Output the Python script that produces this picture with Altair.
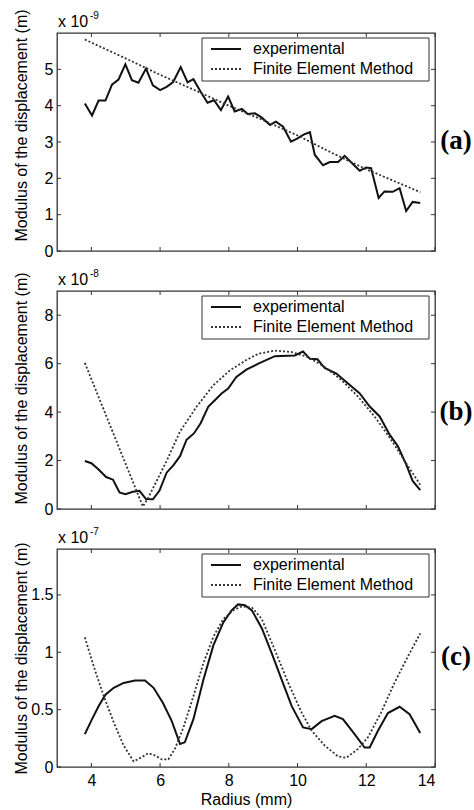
import altair as alt
import pandas as pd

# ---------------- data ----------------
# Panel (a): values in units of 1e-9 m
a_exp_x = [3.81, 4.02, 4.21, 4.41, 4.60, 4.79, 4.99, 5.18, 5.37, 5.59, 5.79, 6.00, 6.19, 6.38, 6.60,
           6.80, 6.97, 7.18, 7.38, 7.57, 7.77, 7.98, 8.17, 8.38, 8.55, 8.76, 8.96, 9.20, 9.37, 9.58,
           9.81, 10.00, 10.19, 10.36, 10.50, 10.74, 10.94, 11.18, 11.37, 11.58, 11.81, 12.00, 12.14,
           12.36, 12.53, 12.77, 12.97, 13.16, 13.35, 13.57]
a_exp_y = [4.06, 3.73, 4.14, 4.14, 4.58, 4.72, 5.14, 4.70, 4.63, 5.02, 4.56, 4.43, 4.52, 4.65, 5.06,
           4.64, 4.73, 4.38, 4.08, 4.15, 3.88, 4.25, 3.84, 3.91, 3.77, 3.79, 3.67, 3.47, 3.56, 3.42,
           3.01, 3.10, 3.21, 3.27, 2.65, 2.36, 2.45, 2.45, 2.62, 2.42, 2.21, 2.30, 2.28,
           1.46, 1.64, 1.63, 1.73, 1.10, 1.35, 1.32]
a_fem_x = [3.81, 5.0, 6.0, 7.0, 8.0, 9.0, 10.0, 11.0, 12.0, 13.0, 13.57]
a_fem_y = [5.82, 5.30, 4.85, 4.43, 4.00, 3.60, 3.18, 2.70, 2.25, 1.85, 1.62]

# Panel (b): values in units of 1e-8 m
b_exp_x = [3.81, 4.00, 4.21, 4.43, 4.63, 4.82, 4.99, 5.21, 5.40, 5.59, 5.79, 5.98, 6.19, 6.39, 6.58,
           6.77, 6.99, 7.18, 7.40, 7.60, 7.79, 7.98, 8.22, 8.51, 8.86, 9.34, 9.92, 10.16, 10.36,
           10.58, 10.79, 11.13, 11.47, 11.81, 12.10, 12.39, 12.68, 12.92, 13.16, 13.35, 13.57]
b_exp_y = [1.98, 1.89, 1.63, 1.32, 1.21, 0.68, 0.61, 0.71, 0.75, 0.41, 0.40, 0.75, 1.50, 1.81, 2.18,
           2.86, 3.13, 3.54, 4.22, 4.50, 4.77, 4.97, 5.45, 5.75, 6.00, 6.31, 6.34, 6.50, 6.20,
           6.18, 5.82, 5.59, 5.18, 4.77, 4.23, 3.82, 3.07, 2.59, 1.84, 1.16, 0.78]
b_fem_x = [3.81, 5.50, 5.66, 6.19, 6.58, 7.06, 7.55, 8.03, 8.51, 8.86, 9.34, 9.83, 10.31, 10.79,
           11.28, 11.76, 12.24, 12.72, 13.21, 13.57]
b_fem_y = [6.03, 0.10, 0.48, 1.98, 3.20, 4.22, 5.11, 5.72, 6.15, 6.41, 6.54, 6.48, 6.27, 5.86,
           5.32, 4.64, 3.82, 2.87, 1.78, 1.00]

# Panel (c): values in units of 1e-7 m
c_exp_x = [3.81, 4.02, 4.21, 4.41, 4.65, 4.94, 5.27, 5.56, 5.81, 6.08, 6.34, 6.58, 6.72, 6.97, 7.26,
           7.55, 7.84, 8.08, 8.27, 8.47, 8.67, 8.96, 9.25, 9.54, 9.83, 10.16, 10.41, 10.70, 11.08,
           11.32, 11.66, 11.95, 12.10, 12.34, 12.63, 12.97, 13.26, 13.57]
c_exp_y = [0.287, 0.417, 0.53, 0.63, 0.69, 0.733, 0.753, 0.753, 0.69, 0.56, 0.40, 0.20, 0.215, 0.417,
           0.76, 1.06, 1.26, 1.365, 1.417, 1.41, 1.365, 1.21, 0.99, 0.76, 0.53, 0.345, 0.33, 0.40,
           0.445, 0.417, 0.287, 0.17, 0.17, 0.316, 0.47, 0.525, 0.46, 0.296]
c_fem_x = [3.81, 4.07, 4.36, 4.65, 4.94, 5.23, 5.47, 5.66, 5.86, 6.05, 6.24, 6.43, 6.68, 6.97, 7.26,
           7.55, 7.84, 8.13, 8.37, 8.67, 8.96, 9.34, 9.73, 10.12, 10.41, 10.79, 11.18, 11.42, 11.76,
           12.05, 12.43, 12.82, 13.21, 13.57]
c_fem_y = [1.13, 0.876, 0.618, 0.39, 0.187, 0.049, 0.086, 0.12, 0.10, 0.066, 0.066, 0.158, 0.345,
           0.618, 0.905, 1.135, 1.29, 1.365, 1.40, 1.39, 1.29, 1.02, 0.733, 0.474, 0.316, 0.187,
           0.092, 0.08, 0.158, 0.259, 0.474, 0.733, 0.963, 1.164]

x_ticks = [4, 6, 8, 10, 12, 14]
a_ticks = [0, 1, 2, 3, 4, 5]
b_ticks = [0, 2, 4, 6, 8]
c_ticks = [0, 0.5, 1, 1.5]
series_names = ["experimental", "Finite Element Method"]
y_title = "Modulus of the displacement (m)"
x_title = "Radius (mm)"

# ---------------- styling ----------------
W, H = 378, 218
FONT = "Liberation Sans"
EXP_COLOR = "#111111"
FEM_COLOR = "#333333"
BOX = "#333333"
FS = 16


def panel(exp_x, exp_y, fem_x, fem_y, ymax, yticks, expo, letter, letter_y, title_y, show_x,
          anchor=False):
    xs = alt.Scale(domain=[3, 14], nice=False, zero=False)
    ys = alt.Scale(domain=[0, ymax], nice=False, zero=False)
    xkw = dict(values=x_ticks, ticks=False, domain=False, grid=False, labels=show_x,
               labelFontSize=FS, labelPadding=5)
    if show_x:
        xkw.update(title=x_title, titleFontSize=FS, titleY=32, titleBaseline="middle")
    else:
        xkw.update(title="")
    xaxis = alt.Axis(**xkw)
    yaxis = alt.Axis(values=yticks, ticks=False, domain=False, grid=False, format="~g",
                     labelFontSize=FS, labelPadding=4, title=y_title, titleFontSize=FS,
                     titleAngle=270, titleX=-36, titleY=title_y, titleBaseline="middle",
                     titleAlign="center")

    def X():
        return alt.X("x:Q", scale=xs, axis=xaxis)

    def Y():
        return alt.Y("y:Q", scale=ys, axis=yaxis)

    exp_df = pd.DataFrame({"x": exp_x, "y": exp_y})
    fem_df = pd.DataFrame({"x": fem_x, "y": fem_y})
    xt_df = pd.DataFrame({"x": x_ticks})
    yt_df = pd.DataFrame({"y": yticks})

    exp_line = alt.Chart(exp_df).mark_line(color=EXP_COLOR, strokeWidth=2).encode(x=X(), y=Y())
    fem_line = alt.Chart(fem_df).mark_line(color=FEM_COLOR, strokeWidth=1.8,
                                           strokeDash=[2, 2]).encode(x=X(), y=Y())

    tick_b = alt.Chart(xt_df).mark_rule(color=BOX, strokeWidth=1).encode(
        x=X(), y=alt.value(H), y2=alt.value(H - 4))
    tick_t = alt.Chart(xt_df).mark_rule(color=BOX, strokeWidth=1).encode(
        x=X(), y=alt.value(0), y2=alt.value(4))
    tick_l = alt.Chart(yt_df).mark_rule(color=BOX, strokeWidth=1).encode(
        y=Y(), x=alt.value(0), x2=alt.value(4))
    tick_r = alt.Chart(yt_df).mark_rule(color=BOX, strokeWidth=1).encode(
        y=Y(), x=alt.value(W), x2=alt.value(W - 4))

    one = pd.DataFrame({"t": ["x 10"]})
    mult = alt.Chart(one).mark_text(font=FONT, fontSize=FS, align="left", baseline="alphabetic",
                                    color="#000").encode(
        x=alt.value(1), y=alt.value(-6), text="t:N")
    exp_txt = alt.Chart(pd.DataFrame({"t": [expo]})).mark_text(
        font=FONT, fontSize=10, align="left", baseline="alphabetic", color="#000").encode(
        x=alt.value(33), y=alt.value(-14), text="t:N")

    lab = alt.Chart(pd.DataFrame({"t": [letter]})).mark_text(
        font="Liberation Serif", fontWeight="bold", fontSize=27, align="center",
        baseline="middle", color="#000").encode(
        x=alt.value(W + 21), y=alt.value(letter_y), text="t:N")

    leg_box = alt.Chart(pd.DataFrame({"t": ["box"]})).mark_rect(
        fill="white", stroke=BOX, strokeWidth=1).encode(
        x=alt.value(145), x2=alt.value(372), y=alt.value(5), y2=alt.value(48))
    leg_l1 = alt.Chart(pd.DataFrame({"t": ["l1"]})).mark_rule(color=EXP_COLOR, strokeWidth=2).encode(
        x=alt.value(154), x2=alt.value(184), y=alt.value(16))
    leg_l2 = alt.Chart(pd.DataFrame({"t": ["l2"]})).mark_rule(
        color=FEM_COLOR, strokeWidth=1.8, strokeDash=[2, 2]).encode(
        x=alt.value(154), x2=alt.value(184), y=alt.value(36))
    leg_t1 = alt.Chart(pd.DataFrame({"t": [series_names[0]]})).mark_text(
        font=FONT, fontSize=FS, align="left", baseline="middle", color="#000").encode(
        x=alt.value(196), y=alt.value(16), text="t:N")
    leg_t2 = alt.Chart(pd.DataFrame({"t": [series_names[1]]})).mark_text(
        font=FONT, fontSize=FS, align="left", baseline="middle", color="#000").encode(
        x=alt.value(196), y=alt.value(36), text="t:N")

    layers = [exp_line, fem_line, tick_b, tick_t, tick_l, tick_r, mult, exp_txt, lab,
              leg_box, leg_l1, leg_l2, leg_t1, leg_t2]
    if anchor:
        # invisible anchor fixing the top-left corner of the page
        anc = alt.Chart(pd.DataFrame({"t": ["a"]})).mark_rule(
            color="white", strokeOpacity=0, strokeWidth=1).encode(
            x=alt.value(-55.5), x2=alt.value(-55.5), y=alt.value(-31.5), y2=alt.value(-30))
        layers.append(anc)
    return alt.layer(*layers).properties(width=W, height=H)


pa = panel(a_exp_x, a_exp_y, a_fem_x, a_fem_y, 6, a_ticks, "-9", "(a)", 108, 92, False, True)
pb = panel(b_exp_x, b_exp_y, b_fem_x, b_fem_y, 9, b_ticks, "-8", "(b)", 121, 97, False)
pc = panel(c_exp_x, c_exp_y, c_fem_x, c_fem_y, 1.9, c_ticks, "-7", "(c)", 108, 109, True)

chart = alt.vconcat(pa, pb, pc, spacing=40, bounds="flush").properties(
    padding=0,
    background="white",
).configure_view(stroke=BOX, strokeWidth=1.3).configure_axis(
    labelFont=FONT, titleFont=FONT, labelColor="#000", titleColor="#000",
    titleFontWeight="normal")

chart.save("out.html", embed_options={"renderer": "svg", "actions": False})
